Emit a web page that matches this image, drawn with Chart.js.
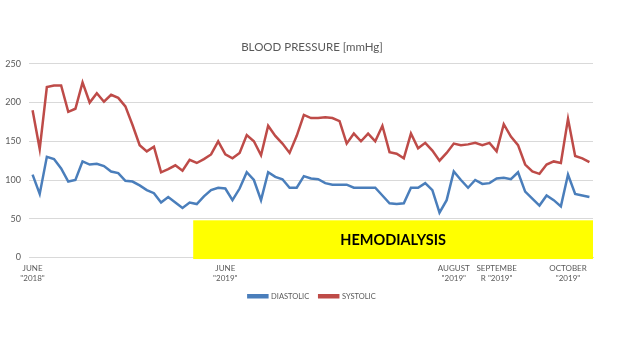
<!DOCTYPE html>
<html>
<head>
<meta charset="utf-8">
<script src="https://cdn.jsdelivr.net/npm/chart.js@4.4.1/dist/chart.umd.min.js"></script>
<style>
  html, body { margin: 0; padding: 0; background: #fff; }
  #bp { display: block; }
</style>
</head>
<body>
<canvas id="bp" width="624" height="354"></canvas>
<script>
// readings, one per visit
const systolic = [
    190, 140, 220, 222, 222, 188, 192, 226, 200, 212, 201, 210, 206, 195, 171, 145,
    137, 143, 110, 114, 119, 112, 126, 122, 127, 133, 150, 133, 128, 135, 158, 150,
    132, 170, 157, 147, 135, 157, 184, 180, 180, 181, 180, 176, 147, 160, 150, 160,
    150, 170, 136, 134, 128, 160, 141, 148, 138, 125, 135, 147, 145, 146, 148, 145,
    148, 137, 172, 156, 145, 120, 111, 108, 120, 124, 122, 179, 131, 128, 123
];
const diastolic = [
    107, 82, 130, 127, 115, 98, 100, 124, 120, 121, 118, 111, 109, 99, 98, 93,
    87, 83, 71, 78, 71, 64, 71, 69, 79, 87, 90, 89, 74, 89, 110, 100,
    74, 110, 104, 101, 90, 90, 105, 102, 101, 96, 94, 94, 94, 90, 90, 90,
    90, 80, 70, 69, 70, 90, 90, 96, 87, 58, 74, 111, 100, 90, 100, 95,
    96, 102, 103, 101, 110, 85, 76, 67, 80, 74, 66, 107, 82, 80, 78
];

// month labels and the visit they sit under
const tickIndex = [0, 27, 59, 65, 75];
const tickText = [
    ['JUNE', '"2018"'],
    ['JUNE', '"2019"'],
    ['AUGUST', '"2019"'],
    ['SEPTEMBE', 'R "2019"'],
    ['OCTOBER', '"2019"']
];

// hemodialysis band: starts after visit 22, spans -2..48 mmHg
const hdStartIndex = 22;
const hdTop = 48;
const hdBottom = -2;
const hdLabel = 'HEMODIALYSIS';

const labels = systolic.map((_, i) => {
    const k = tickIndex.indexOf(i);
    return k >= 0 ? tickText[k] : '';
});

const FONT = 'Lato, "Liberation Sans", Arial, sans-serif';
const GREY = '#595959';

const hdBand = {
    id: 'hdBand',
    beforeDatasetsDraw(chart) {
        const { ctx, chartArea, scales: { x, y } } = chart;
        const step = x.getPixelForValue(1) - x.getPixelForValue(0);
        const left = x.getPixelForValue(hdStartIndex) + step / 2;
        const right = chartArea.right;
        const top = y.getPixelForValue(hdTop);
        const bottom = y.getPixelForValue(hdBottom);
        ctx.save();
        ctx.fillStyle = '#FFFF00';
        ctx.fillRect(left, top, right - left, bottom - top);
        ctx.fillStyle = '#000';
        ctx.font = 'bold 14.5px ' + FONT;
        ctx.textAlign = 'center';
        ctx.textBaseline = 'middle';
        ctx.fillText(hdLabel, (left + right) / 2, (top + bottom) / 2 + 1);
        ctx.restore();
    }
};

new Chart(document.getElementById('bp'), {
    type: 'line',
    data: {
        labels: labels,
        datasets: [
            {
                label: 'DIASTOLIC',
                data: diastolic,
                borderColor: '#4A7EBB',
                backgroundColor: '#4A7EBB',
                borderWidth: 2.5,
                pointRadius: 0,
                tension: 0
            },
            {
                label: 'SYSTOLIC',
                data: systolic,
                borderColor: '#BE4B48',
                backgroundColor: '#BE4B48',
                borderWidth: 2.5,
                pointRadius: 0,
                tension: 0
            }
        ]
    },
    plugins: [hdBand],
    options: {
        responsive: false,
        animation: false,
        layout: { padding: { left: 0, right: 0, top: 0, bottom: 44 } },
        plugins: {
            title: {
                display: true,
                text: 'BLOOD PRESSURE [mmHg]',
                color: GREY,
                font: { family: FONT, size: 11.5, weight: 'normal' },
                padding: { top: 40, bottom: 10 }
            },
            legend: {
                position: 'bottom',
                labels: {
                    color: GREY,
                    font: { family: FONT, size: 7.5 },
                    boxWidth: 19,
                    boxHeight: 2,
                    padding: 10
                }
            },
            tooltip: { enabled: false }
        },
        scales: {
            x: {
                offset: true,
                grid: { display: false, drawTicks: false },
                border: { display: true, color: '#d9d9d9' },
                ticks: {
                    autoSkip: false,
                    maxRotation: 0,
                    minRotation: 0,
                    padding: 6,
                    color: GREY,
                    font: { family: FONT, size: 8, lineHeight: 1.25 }
                },
                afterFit(scale) { scale.height = 25; }
            },
            y: {
                min: 0,
                max: 250,
                grid: { color: '#d9d9d9', drawTicks: false },
                border: { display: false },
                ticks: {
                    stepSize: 50,
                    padding: 8,
                    color: GREY,
                    font: { family: FONT, size: 9 }
                },
                afterFit(scale) { scale.width = 29; }
            },
            // empty right-hand gutter so title and legend centre on the page
            gutter: {
                position: 'right',
                min: 0,
                max: 250,
                grid: { display: false, drawTicks: false },
                border: { display: false },
                ticks: { display: false },
                afterFit(scale) { scale.width = 31; }
            }
        }
    }
});
</script>
</body>
</html>
